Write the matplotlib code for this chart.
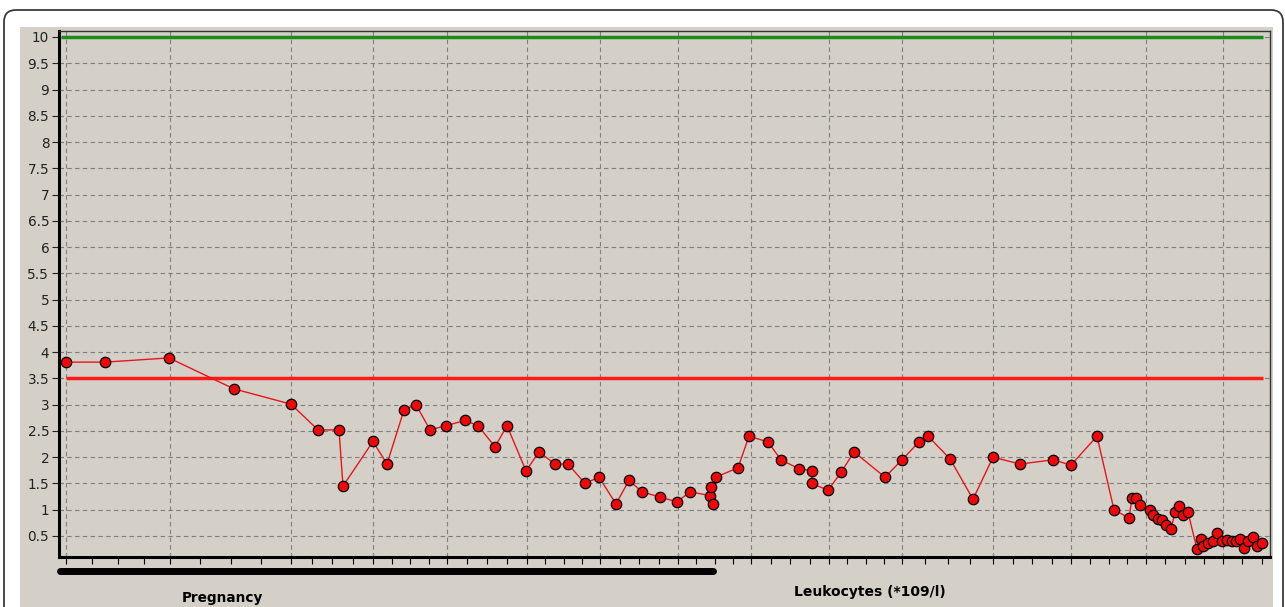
import matplotlib.pyplot as plt
import matplotlib.transforms as mtransforms
from matplotlib.patches import Rectangle, FancyBboxPatch
import numpy as np

# Leukozyten-Verlauf (x = Tag, y = Leukozyten *10^9/l)
days = [7, 46, 110, 175, 232, 259, 280, 284, 314, 328, 345, 357, 371, 387,
        406, 419, 436, 448, 467, 480, 496, 509, 526, 540, 557, 570, 583, 601,
        618, 631, 651, 652, 654, 657, 679, 690, 709, 722, 740, 753, 753, 769,
        782, 795, 826, 843, 860, 869, 891, 914, 934, 961, 994, 1012, 1038,
        1055, 1070, 1073, 1077, 1081, 1091, 1094, 1099, 1103, 1107, 1112,
        1116, 1120, 1124, 1129, 1138, 1142, 1144, 1149, 1154, 1158, 1163,
        1168, 1173, 1177, 1181, 1185, 1189, 1194, 1198, 1203]
wbc = [3.81, 3.81, 3.89, 3.3, 3.01, 2.52, 2.52, 1.45, 2.3, 1.87, 2.9, 3.0,
       2.52, 2.6, 2.7, 2.6, 2.2, 2.6, 1.74, 2.1, 1.87, 1.87, 1.5, 1.62, 1.11,
       1.56, 1.34, 1.24, 1.15, 1.34, 1.27, 1.44, 1.11, 1.62, 1.8, 2.4, 2.29,
       1.95, 1.78, 1.74, 1.5, 1.37, 1.71, 2.1, 1.62, 1.95, 2.29, 2.4, 1.97,
       1.2, 2.0, 1.87, 1.95, 1.85, 2.4, 1.0, 0.84, 1.22, 1.22, 1.09, 1.0, 0.9,
       0.82, 0.8, 0.7, 0.63, 0.95, 1.08, 0.9, 0.95, 0.25, 0.44, 0.3, 0.37,
       0.4, 0.55, 0.4, 0.42, 0.4, 0.4, 0.45, 0.27, 0.4, 0.48, 0.3, 0.37]

grid_days = [7, 111, 232, 314, 388, 468, 541, 619, 692, 770, 843, 934,
             1012, 1087, 1164]
y_ticks = np.arange(0.5, 10.01, 0.5)

upper_limit = 10
lower_limit = 3.5
pregnancy = (1, 654)

W, H = 1285, 607
panel = '#d4d0c8'

fig = plt.figure(figsize=(W / 100, H / 100), dpi=100, facecolor='white')
ident = mtransforms.IdentityTransform()

# grauer Hintergrund + abgerundeter Rahmen
fig.patches.append(Rectangle((20, 0), 1253, H - 27, transform=ident,
                             facecolor=panel, edgecolor='none', zorder=-2))
fig.patches.append(FancyBboxPatch((4, -60), 1279, H - 10 + 60, transform=ident,
                                  boxstyle='round,pad=0,rounding_size=12',
                                  facecolor='none', edgecolor='#3a3a3a',
                                  lw=1.3, zorder=-1))

ax = fig.add_axes([59 / W, 1 - 557 / H, (1270 - 59) / W, (557 - 31) / H])
ax.set_facecolor(panel)
ax.set_xlim(0, 1211)
ax.set_ylim(0.1, 10.114)

ax.set_yticks(y_ticks)
ax.set_yticklabels(['%g' % v for v in y_ticks])
ax.set_xticks(grid_days)
ax.set_xticklabels([])
minor = []
for a, b in zip(grid_days[:-1], grid_days[1:]):
    minor += [a + (b - a) * k / 4 for k in (1, 2, 3)]
step = (grid_days[-1] - grid_days[-2]) / 4
minor += [grid_days[-1] + step, grid_days[-1] + 2 * step]
ax.set_xticks(minor, minor=True)

ax.tick_params(axis='y', direction='out', length=5, width=0.8, pad=2,
               labelsize=9.8, colors='#222222')
ax.tick_params(axis='x', which='both', direction='out', length=5, width=0.8)
ax.grid(True, which='major', color='#7f7f7f', linestyle=(0, (4, 3)), lw=0.8)

for s in ('left', 'bottom'):
    ax.spines[s].set_linewidth(2.2)
    ax.spines[s].set_color('black')
for s in ('top', 'right'):
    ax.spines[s].set_linewidth(1)
    ax.spines[s].set_color('#333333')

ax.hlines(upper_limit, 2, 1204, color='#1a8c1a', lw=2.5, zorder=3)
ax.hlines(lower_limit, 7, 1204, color='#ff1a1a', lw=2.5, zorder=3)

ax.plot(days, wbc, color='#e8141c', lw=1, marker='o', markersize=7.5,
        markerfacecolor='#f00808', markeredgecolor='black',
        markeredgewidth=0.9, zorder=4, clip_on=False)

# Balken fuer die Schwangerschaft unter der Achse
blend = mtransforms.blended_transform_factory(ax.transData, fig.transFigure)
ax.plot(pregnancy, [1 - 571 / H] * 2, transform=blend, color='black', lw=5,
        solid_capstyle='round', clip_on=False)

fig.text(222 / W, 1 - 605 / H, 'Pregnancy', ha='center', va='bottom',
         fontsize=9.8, fontweight='bold')
fig.text(870 / W, 1 - 592 / H, 'Leukocytes (*109/l)', ha='center',
         va='center', fontsize=10, fontweight='bold')

fig.savefig('out.png', dpi=100, facecolor='white')
